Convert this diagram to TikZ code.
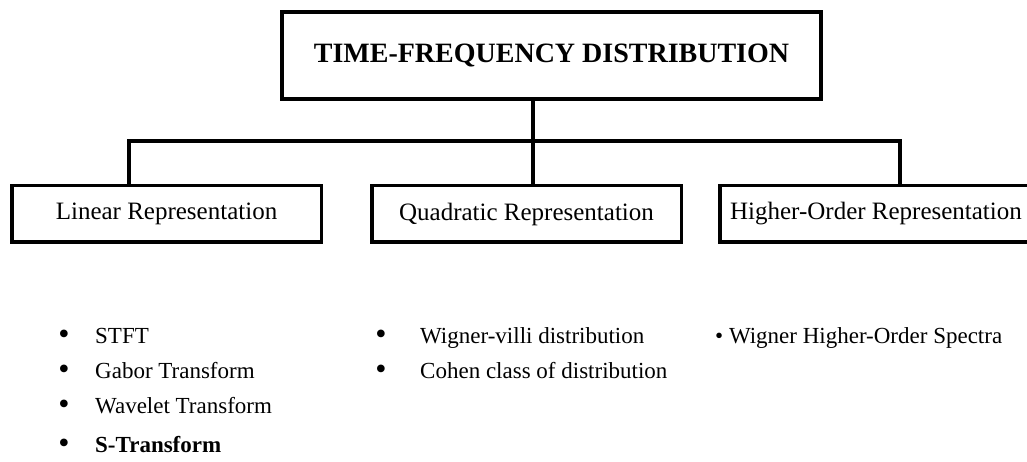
\documentclass[tikz,border=0pt]{standalone}
\usepackage{fontspec}
\setmainfont{Liberation Serif}
\begin{document}
\begin{tikzpicture}[x=1pt, y=-1pt,
    every node/.style={inner sep=0pt},
    catbox/.style={draw, line width=3.5pt, minimum width=309.5pt,
                   minimum height=56.5pt, font=\fontsize{25}{30}\selectfont},
    entry/.style={anchor=base west, font=\fontsize{23}{28}\selectfont},
    bulletmark/.style={anchor=base, font=\fontsize{32}{32}\selectfont},
    link/.style={line width=3.5pt}]
  \useasboundingbox (0,0) rectangle (1027,462);

  % root
  \node[draw, line width=4pt, minimum width=539pt, minimum height=87pt,
        font=\bfseries\fontsize{28}{34}\selectfont] (tfd) at (551.5,55.5)
        {TIME-FREQUENCY DISTRIBUTION};

  % categories
  \node[catbox] (lin)  at (166.5,214) {Linear Representation};
  \node[catbox] (quad) at (526.5,214) {Quadratic Representation};
  \node[catbox, minimum width=312pt] (hig) at (876,214) {Higher-Order Representation};

  \coordinate (fork)    at (533,141);
  \coordinate (linfork) at (129,141);
  \coordinate (higfork) at (900,141);

  \draw[link] (tfd.south -| fork) -- (quad.north -| fork);
  \draw[link] (lin.north -| linfork) |- (higfork) -- (hig.north -| higfork);

  % linear methods
  \node[bulletmark] (stftb)  at (64,344) {\textbullet};
  \node[bulletmark] (gaborb) at (64,379) {\textbullet};
  \node[bulletmark] (waveb)  at (64,414) {\textbullet};
  \node[bulletmark] (stb)    at (64,453) {\textbullet};
  \node[entry] (stft)  at (95,343) {STFT};
  \node[entry] (gabor) at (95,378) {Gabor Transform};
  \node[entry] (wave)  at (95,413) {Wavelet Transform};
  \node[entry] (st)    at (95,452) {\bfseries S-Transform};

  % quadratic methods
  \node[bulletmark] (wvdb)   at (381,344) {\textbullet};
  \node[bulletmark] (cohenb) at (381,379) {\textbullet};
  \node[entry] (wvd)   at (420,343) {Wigner-villi distribution};
  \node[entry] (cohen) at (420,378) {Cohen class of distribution};

  % higher-order methods
  \node[entry] (whos) at (715,343) {\textbullet{} Wigner Higher-Order Spectra};
\end{tikzpicture}
\end{document}
